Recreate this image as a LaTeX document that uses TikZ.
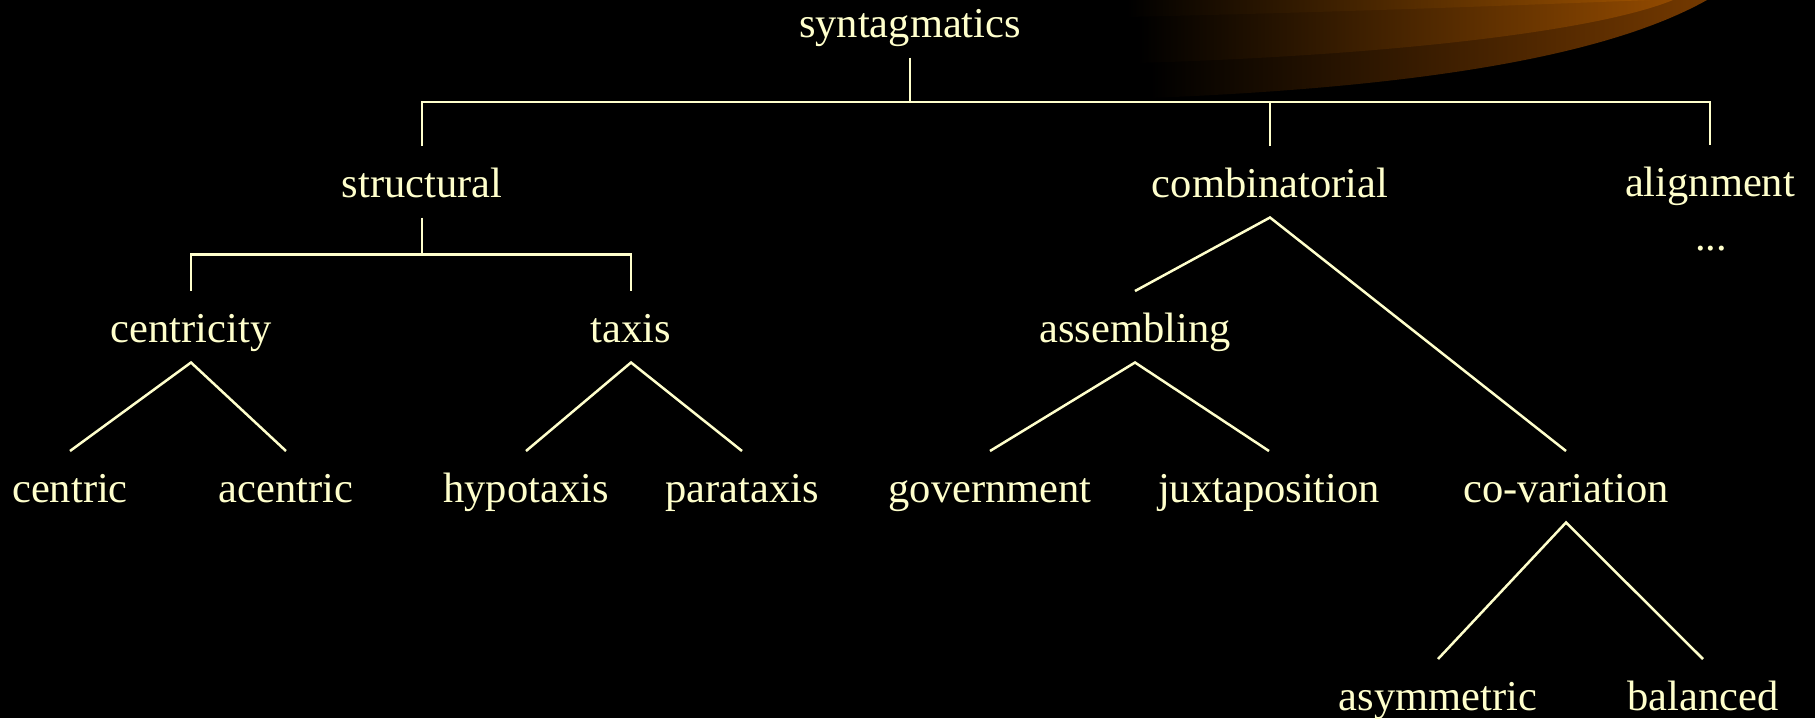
\documentclass[tikz,border=0pt]{standalone}
\usepackage{fontspec}
\setmainfont{Liberation Serif}
\usetikzlibrary{calc}
\definecolor{chalk}{HTML}{FFFFCC}
\definecolor{bandA}{HTML}{9C5100}
\definecolor{bandB}{HTML}{924A00}
\definecolor{bandC}{HTML}{743900}

\begin{document}
\begin{tikzpicture}[x=0.5pt,y=-0.5pt,
  term/.style={anchor=base, inner sep=0pt, outer sep=0pt, text=chalk,
    font=\fontsize{21.25pt}{25pt}\selectfont,
    text height=25.5pt, text depth=10.25pt},
  branch/.style={draw=chalk, line width=1.25pt}]

% slide background
\fill[black] (0,0) rectangle (1815,718);
\useasboundingbox (0,0) rectangle (1815,718);

% orange swoosh in the upper right corner, three stacked bands
\shade[left color=black, right color=bandC]
  (1150,0) -- (1150,98) .. controls (1400,88) and (1600,60) .. (1707,0) -- cycle;
\shade[left color=black, right color=bandB]
  (1138,0) -- (1138,63) .. controls (1400,55) and (1600,30) .. (1673,0) -- cycle;
\shade[left color=black, right color=bandA]
  (1127,0) -- (1127,17) .. controls (1350,12) and (1550,4) .. (1650,0) -- cycle;

% terms
\node[term] (syn)  at (910,37)   {syntagmatics};
\node[term] (str)  at (422,197)  {structural};
\node[term] (com)  at (1270,197) {combinatorial};
\node[term] (ali)  at (1710,196) {alignment};
\node[term] (more) at (1711,250) {...};
\node[term] (cen)  at (191,342)  {centricity};
\node[term] (tax)  at (631,342)  {taxis};
\node[term] (ass)  at (1135,342) {assembling};
\node[term] (ctr)  at (70,502)   {centric};
\node[term] (actr) at (286,502)  {acentric};
\node[term] (hyp)  at (526,502)  {hypotaxis};
\node[term] (par)  at (742,502)  {parataxis};
\node[term] (gov)  at (990,502)  {government};
\node[term] (jux)  at (1269,502) {juxtaposition};
\node[term] (cov)  at (1566,502) {co-variation};
\node[term] (asy)  at (1438,710) {asymmetric};
\node[term] (bal)  at (1703,710) {balanced};

% bracket connectors
\coordinate (bar1) at ($(syn.south)!.5!(syn.south |- str.north)$);
\draw[branch] (syn.south) -- (bar1);
\draw[branch] (str.north) |- (bar1) -| (ali.north);
\draw[branch] (com.north) -- (com.north |- bar1);

\coordinate (bar2) at ($(str.south)!.5!(str.south |- cen.north)$);
\draw[branch] (str.south) -- (bar2);
\draw[branch] (cen.north) |- (bar2) -| (tax.north);

% branching connectors
\draw[branch] (ctr.north) -- (cen.south) -- (actr.north);
\draw[branch] (hyp.north) -- (tax.south) -- (par.north);
\draw[branch] (ass.north) -- (com.south) -- (cov.north);
\draw[branch] (gov.north) -- (ass.south) -- (jux.north);
\draw[branch] (asy.north) -- (cov.south) -- (bal.north);
\end{tikzpicture}
\end{document}
